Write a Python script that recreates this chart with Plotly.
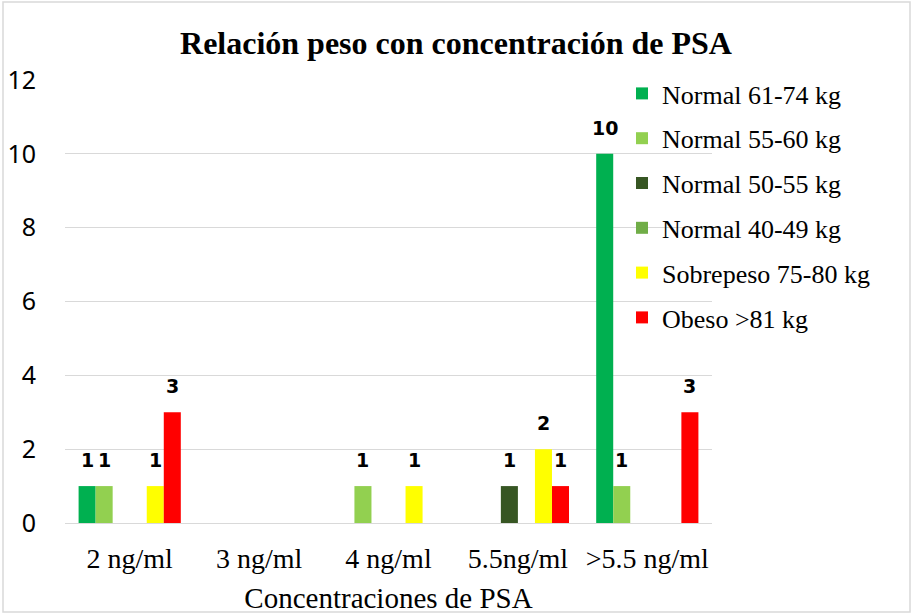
import plotly.graph_objects as go

categories = ["2 ng/ml", "3 ng/ml", "4 ng/ml", "5.5ng/ml", ">5.5 ng/ml"]
series_names = ["Normal 61-74 kg", "Normal 55-60 kg", "Normal 50-55 kg",
                "Normal 40-49 kg", "Sobrepeso 75-80 kg", "Obeso >81 kg"]
normal_61_74 = [1, 0, 0, 0, 10]
normal_55_60 = [1, 0, 1, 0, 1]
normal_50_55 = [0, 0, 0, 1, 0]
normal_40_49 = [0, 0, 0, 0, 0]
sobrepeso_75_80 = [1, 0, 1, 2, 0]
obeso_81 = [3, 0, 0, 1, 3]
series_values = [normal_61_74, normal_55_60, normal_50_55, normal_40_49, sobrepeso_75_80, obeso_81]
colors = ["#00B050", "#92D050", "#375623", "#70AD47", "#FFFF00", "#FF0000"]
y_ticks = [0, 2, 4, 6, 8, 10, 12]

SERIF = "Liberation Serif, Times New Roman, serif"
BARGAP = 0.21
n_series = len(series_names)
bar_w = (1 - BARGAP) / n_series

fig = go.Figure()
annotations = []
for i, (name, vals, col) in enumerate(zip(series_names, series_values, colors)):
    fig.add_trace(go.Bar(
        x=categories, y=vals, name=name,
        marker=dict(color=col, line=dict(width=0)),
        legendgroup=f"g{i}",
    ))
    for j, v in enumerate(vals):
        if v:
            annotations.append(dict(
                x=j + (i - (n_series - 1) / 2) * bar_w, y=v, xref="x", yref="y",
                text=str(v), showarrow=False, yanchor="middle", yshift=26,
                font=dict(family="DejaVu Sans", size=19, color="#000000", weight="bold"),
            ))

L, R, T, B = 65, 200, 80, 91
W, H = 912, 614
pw, ph = W - L - R, H - T - B

fig.update_layout(
    width=W, height=H,
    margin=dict(l=L, r=R, t=T, b=B),
    paper_bgcolor="white", plot_bgcolor="white",
    font=dict(family=SERIF, color="#000000"),
    barmode="group", bargap=BARGAP, bargroupgap=0,
    title=dict(text="<b>Relación peso con concentración de PSA</b>",
               x=0.5, xref="container", xanchor="center",
               y=1 - 43 / H, yref="container", yanchor="middle",
               font=dict(family=SERIF, size=32, color="#000000")),
    legend=dict(x=(622 - L) / pw, xanchor="left", y=1.0 + 10 / ph, yanchor="top",
                font=dict(family=SERIF, size=26, color="#000000"),
                bgcolor="rgba(0,0,0,0)", tracegroupgap=8, itemwidth=30,
                traceorder="grouped"),
    xaxis=dict(tickfont=dict(family=SERIF, size=28, color="#000000"),
               ticks="", ticklabelstandoff=16, showline=False, showgrid=False,
               automargin=False,
               title=dict(text="Concentraciones de PSA", standoff=14,
                          font=dict(family=SERIF, size=29, color="#000000"))),
    yaxis=dict(range=[0, 12], tickvals=y_ticks, showgrid=True, gridcolor="#D9D9D9",
               gridwidth=1, zeroline=True, zerolinecolor="#D9D9D9", zerolinewidth=1,
               showline=False, ticks="", ticklabelstandoff=28, automargin=False,
               tickfont=dict(family="Noto Sans", size=25, color="#000000")),
    annotations=annotations,
    shapes=[dict(type="rect", xref="paper", yref="paper",
                 x0=(3 - L) / pw, x1=(910 - L) / pw,
                 y0=(T + ph - 612) / ph, y1=(T + ph - 2) / ph,
                 line=dict(color="#D9D9D9", width=1.5), fillcolor="rgba(0,0,0,0)", layer="below")],
)

fig.write_html("out.html", config={"displayModeBar": False},
               post_script="document.body.style.margin='0';")
